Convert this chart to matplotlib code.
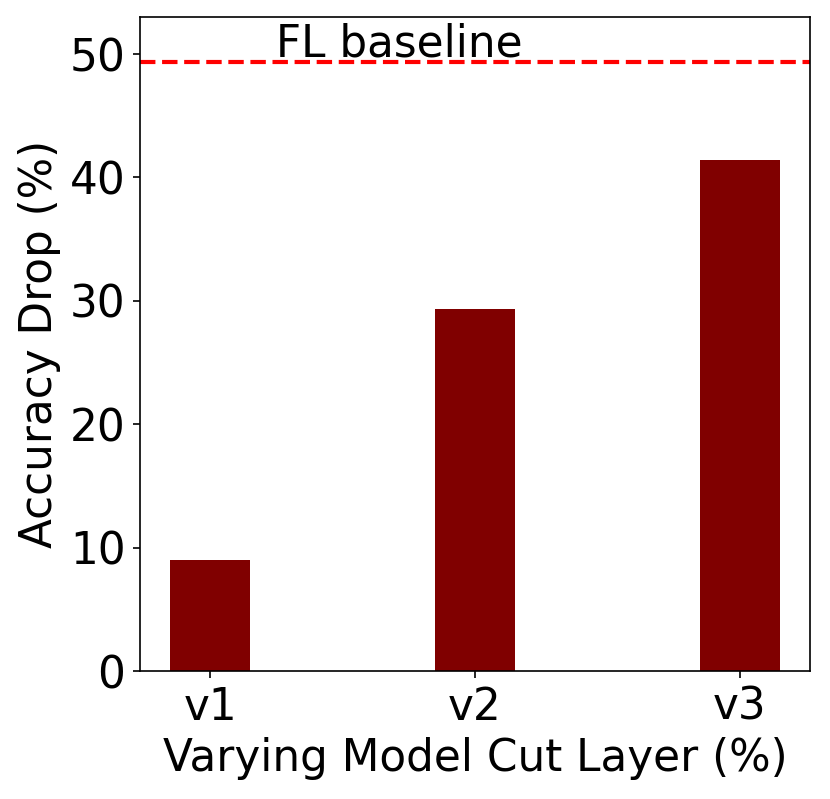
import numpy as np
import matplotlib.pyplot as plt

labels = ["v1", "v2", "v3"]
drop = [9.0, 29.35, 41.4]
fl_baseline = 49.35

plt.rcParams['font.size'] = 21

fig = plt.figure(figsize=(830/150, 799/150), dpi=150)
ax = fig.add_axes([140/830, 1 - 671/799, 670/830, 654/799])

x = np.arange(len(labels))
ax.bar(x, drop, width=0.3, color="maroon")
ax.axhline(fl_baseline, color="red", linestyle="--", linewidth=2)
ax.text(0.25, 49.8, "FL baseline")

ax.set_xticks(x)
ax.set_xticklabels(labels)
ax.set_ylim(0, 53)
ax.set_yticks([0, 10, 20, 30, 40, 50])
ax.set_xlabel("Varying Model Cut Layer (%)")
ax.set_ylabel("Accuracy Drop (%)")

fig.savefig("out.png", dpi=150)
